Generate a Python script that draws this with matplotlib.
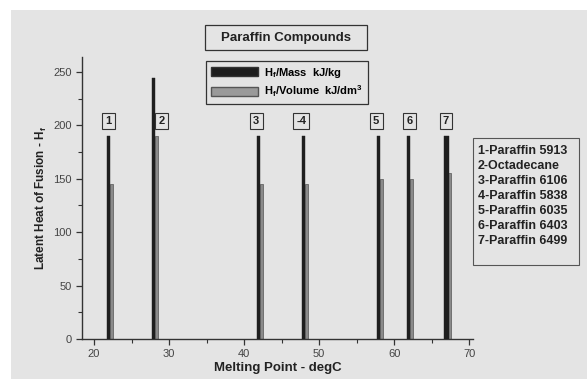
import matplotlib
matplotlib.use('Agg')
import matplotlib.pyplot as plt
from matplotlib.patches import Rectangle
from matplotlib.ticker import MultipleLocator

plt.rcParams['font.family'] = ['Liberation Sans', 'DejaVu Sans']
plt.rcParams['mathtext.fontset'] = 'custom'
plt.rcParams['mathtext.rm'] = 'Liberation Sans:bold'
plt.rcParams['mathtext.it'] = 'Liberation Sans:bold'

melting = [21.9, 27.9, 41.9, 47.9, 57.9, 61.9, 66.9]
hf_mass = [190, 244, 190, 190, 190, 190, 190]
hf_volume = [145, 190, 145, 145, 150, 150, 155]
numbers = ['1', '2', '3', '-4', '5', '6', '7']
label_x = [21.9, 29.0, 41.6, 47.6, 57.6, 62.0, 66.9]
names = ['1-Paraffin 5913', '2-Octadecane', '3-Paraffin 6106', '4-Paraffin 5838',
         '5-Paraffin 6035', '6-Paraffin 6403', '7-Paraffin 6499']

bg = '#e4e4e4'
fig = plt.figure(figsize=(5.87, 3.79), dpi=100, facecolor='white')
fig.patches.append(Rectangle((11/587, 0), 1, 1 - 10/379, transform=fig.transFigure,
                             facecolor=bg, edgecolor='none', zorder=-10))

ax = fig.add_axes([82/587, 40/379, 391/587, 282/379])
ax.set_facecolor(bg)

mass_w = [0.4, 0.4, 0.4, 0.4, 0.4, 0.4, 0.6]
for x, m, v, w in zip(melting, hf_mass, hf_volume, mass_w):
    ax.bar(x + w / 2 + 0.2, v, width=0.45, color='#8a8a8a', edgecolor='#555555', linewidth=0.5, zorder=2)
    ax.bar(x + w / 2 - 0.2, m, width=w, color='#1e1e1e', edgecolor='#1e1e1e', linewidth=0.3, zorder=3)

for x, n in zip(label_x, numbers):
    ax.text(x, 204, n, ha='center', va='center', fontsize=8, fontweight='bold', color='#222222',
            bbox=dict(boxstyle='square,pad=0.3', facecolor=bg, edgecolor='#333333', linewidth=0.8))

ax.set_xlim(18.4, 70.5)
ax.set_ylim(0, 264)
ax.xaxis.set_major_locator(MultipleLocator(10))
ax.xaxis.set_minor_locator(MultipleLocator(5))
ax.yaxis.set_major_locator(MultipleLocator(50))
ax.yaxis.set_minor_locator(MultipleLocator(25))
ax.spines['top'].set_visible(False)
ax.spines['right'].set_visible(False)
for s in ['left', 'bottom']:
    ax.spines[s].set_color('#333333')
    ax.spines[s].set_linewidth(1.0)
ax.tick_params(which='major', length=4, width=0.9, colors='#333333', labelsize=8, labelcolor='#444444')
ax.tick_params(which='minor', length=3, width=0.8, colors='#333333')

ax.set_xlabel('Melting Point - degC', fontsize=9.5, fontweight='bold', color='#222222', labelpad=2)
ax.set_ylabel(r'Latent Heat of Fusion - H$_\mathregular{f}$', fontsize=8.5, fontweight='bold',
              color='#222222', labelpad=3)

# title box
fig.patches.append(Rectangle((205/587, 1 - 50/379), 162/587, 25/379, transform=fig.transFigure,
                             facecolor=bg, edgecolor='#333333', linewidth=0.9))
fig.text(286/587, 1 - 37.5/379, 'Paraffin Compounds', ha='center', va='center', fontsize=9.5,
         fontweight='bold', color='#222222')

h1 = Rectangle((0, 0), 1, 1, facecolor='#1e1e1e', edgecolor='#333333')
h2 = Rectangle((0, 0), 1, 1, facecolor='#9a9a9a', edgecolor='#555555')
leg = fig.legend([h1, h2], [r'H$_\mathregular{f}$/Mass  kJ/kg', r'H$_\mathregular{f}$/Volume  kJ/dm$^\mathregular{3}$'],
                 loc='upper left', bbox_to_anchor=(200/587, 1 - 55/379),
                 handlelength=4.3, handleheight=0.9, handletextpad=0.5, labelspacing=0.35,
                 borderpad=0.45, fancybox=False, framealpha=1, facecolor=bg, edgecolor='#333333',
                 prop={'weight': 'bold', 'size': 8})
leg.get_frame().set_linewidth(0.9)

# compound names box
fig.patches.append(Rectangle((473/587, 1 - 265/379), 106/587, 127/379, transform=fig.transFigure,
                             facecolor=bg, edgecolor='#555555', linewidth=0.8))
fig.text(478/587, 1 - 145/379, '\n'.join(names), ha='left', va='top', fontsize=9,
         fontweight='bold', color='#222222', linespacing=1.34)

fig.savefig('out.png', dpi=100, facecolor='white')
